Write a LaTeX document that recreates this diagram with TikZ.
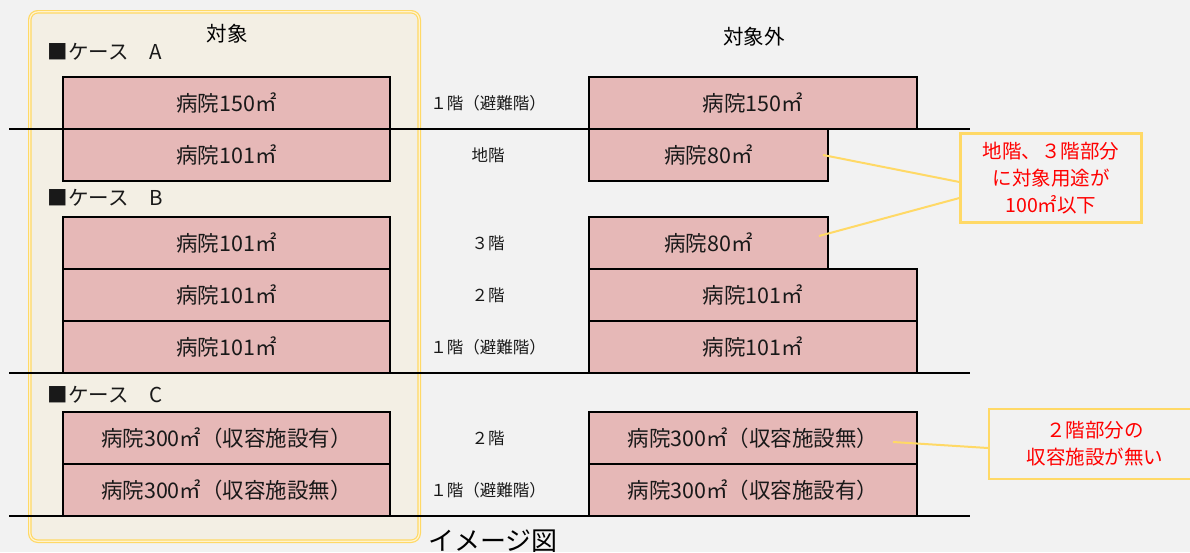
\documentclass[tikz,border=0pt]{standalone}
\usepackage{fontspec}
\setmainfont{Noto Sans CJK JP}
\usepackage{tikz}
\definecolor{bggray}{HTML}{F2F2F2}
\definecolor{hlfill}{HTML}{F3EFE4}
\definecolor{hlline}{HTML}{FFD966}
\definecolor{hlgap}{HTML}{FFF3CF}
\definecolor{roomfill}{HTML}{E6B8B7}
\definecolor{notered}{HTML}{FF0000}
\tikzset{
  room/.style={draw=black,line width=2pt,fill=roomfill,minimum height=52pt,inner sep=0pt,
    font=\fontsize{21.5}{24}\selectfont,text=black!90},
  floorlbl/.style={font=\fontsize{16.5}{20}\selectfont,text=black!90},
  caselbl/.style={anchor=west,font=\fontsize{20.5}{24}\selectfont,text=black!90},
  note/.style={draw=hlline,line width=2.2pt,fill=bggray,align=center,text=notered,
    font=\fontsize{19.5}{27}\selectfont},
  lead/.style={draw=hlline,line width=2pt}
}
\begin{document}
\begin{tikzpicture}[x=1pt,y=-1pt,semithick]
\clip (0,0) rectangle (1190,552);
\fill[bggray] (0,0) rectangle (1190,552);
\draw[fill=hlfill,draw=hlline,double=hlgap,line width=1.2pt,double distance=1.2pt,
  rounded corners=8pt] (29.8,11.8) rectangle (419.2,541.2);
\node[font=\fontsize{20.5}{24}\selectfont] (tgt) at (227,34) {対象};
\node[font=\fontsize{20.5}{24}\selectfont] (ntgt) at (754,37) {対象外};
% floor lines
\draw[line width=2pt] (9,129) -- (970,129) (9,373) -- (970,373) (9,516) -- (970,516);
% case A
\node[caselbl] (caseA) at (44,52) {■ケース　A};
\node[room,minimum width=327pt] (lA1) at (226.5,103) {病院150㎡};
\node[room,minimum width=327pt] (lA2) at (226.5,155) {病院101㎡};
\node[room,minimum width=328pt] (rA1) at (753,103) {病院150㎡};
\node[room,minimum width=239pt] (rA2) at (708.5,155) {病院80㎡};
\node[floorlbl] (fA1) at (488,103) {１階（避難階）};
\node[floorlbl] (fA2) at (488,155) {地階};
% case B
\node[caselbl] (caseB) at (44,198) {■ケース　B};
\node[room,minimum width=327pt] (lB1) at (226.5,243) {病院101㎡};
\node[room,minimum width=327pt] (lB2) at (226.5,295) {病院101㎡};
\node[room,minimum width=327pt] (lB3) at (226.5,347) {病院101㎡};
\node[room,minimum width=239pt] (rB1) at (708.5,243) {病院80㎡};
\node[room,minimum width=328pt] (rB2) at (753,295) {病院101㎡};
\node[room,minimum width=328pt] (rB3) at (753,347) {病院101㎡};
\node[floorlbl] (fB1) at (488,243) {３階};
\node[floorlbl] (fB2) at (488,295) {２階};
\node[floorlbl] (fB3) at (488,347) {１階（避難階）};
% case C
\node[caselbl] (caseC) at (44,395) {■ケース　C};
\node[room,minimum width=327pt] (lC1) at (226.5,438) {病院300㎡（収容施設有）};
\node[room,minimum width=327pt] (lC2) at (226.5,490) {病院300㎡（収容施設無）};
\node[room,minimum width=328pt] (rC1) at (753,438) {病院300㎡（収容施設無）};
\node[room,minimum width=328pt] (rC2) at (753,490) {病院300㎡（収容施設有）};
\node[floorlbl] (fC1) at (488,438) {２階};
\node[floorlbl] (fC2) at (488,490) {１階（避難階）};
% notes
\node[note,minimum width=181pt,minimum height=89pt] (n1) at (1051,178)
  {地階、３階部分\\に対象用途が\\100㎡以下};
\node[note,minimum width=212pt,minimum height=70pt] (n2) at (1095,444)
  {２階部分の\\収容施設が無い};
\draw[lead] ([xshift=-6pt]rA2.east) -- ([yshift=-4pt]n1.west);
\draw[lead] ([xshift=-10pt,yshift=7pt]rB1.east) -- ([yshift=-20pt]n1.west);
\draw[lead] ([xshift=-25pt,yshift=-4pt]rC1.east) -- ([yshift=-4pt]n2.west);
\node[font=\fontsize{26}{30}\selectfont] (cap) at (493,541) {イメージ図};
\end{tikzpicture}
\end{document}
